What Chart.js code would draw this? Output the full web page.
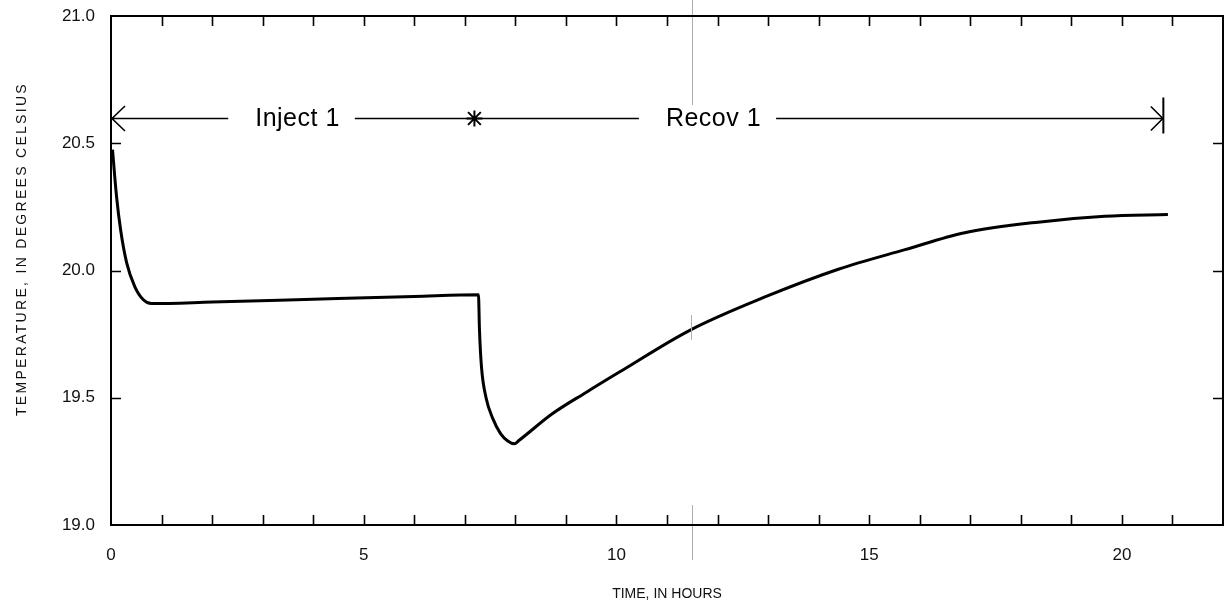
<!DOCTYPE html>
<html>
<head>
<meta charset="utf-8">
<script src="https://cdn.jsdelivr.net/npm/chart.js@4"></script>
<style>
html,body{margin:0;padding:0;background:#fff;}
#wrap{width:1231px;height:604px;position:relative;}
</style>
</head>
<body>
<div id="wrap"><canvas id="c" width="1231" height="604"></canvas></div>
<script>
// ---- data ----
const timeHours = [0.03, 0.11, 0.19, 0.31, 0.47, 0.64, 0.80, 2.0, 4.0, 6.0, 7.27, 7.29, 7.33, 7.42, 7.55, 7.71, 7.85, 7.98, 8.07, 8.73, 9.39, 10.05, 11.46, 12.95, 14.39, 15.71, 16.89, 18.34, 19.66, 20.91];
const temperatureC = [20.475, 20.29, 20.16, 20.03, 19.937, 19.885, 19.87, 19.876, 19.887, 19.898, 19.905, 19.766, 19.62, 19.50, 19.42, 19.358, 19.33, 19.319, 19.332, 19.437, 19.52, 19.60, 19.766, 19.897, 20.005, 20.082, 20.148, 20.19, 20.213, 20.22];
const phaseBounds = [0, 7.19, 20.81];          // hours: start, switch, end
const phaseLabels = ['Inject 1', 'Recov 1'];
const phaseLabelAt = [3.69, 11.92];            // hours, label centres
const phaseLevel = 20.6;                        // degrees C of the annotation line
const xTickLabels = [0, 5, 10, 15, 20];
const yTickLabels = [19.0, 19.5, 20.0, 20.5, 21.0];
const xTitle = 'TIME, IN HOURS';
const yTitle = 'TEMPERATURE, IN DEGREES CELSIUS';

const FONT = "'Liberation Sans', Arial, Helvetica, sans-serif";

const points = timeHours.map((t, i) => ({x: t, y: temperatureC[i]}));

const framePlugin = {
  id: 'frame',
  afterDraw(chart) {
    const ctx = chart.ctx;
    const a = chart.chartArea;
    const xs = chart.scales.x, ys = chart.scales.y;
    ctx.save();
    // scan artifact (faint fold line)
    ctx.strokeStyle = '#b0b0b0';
    ctx.lineWidth = 1;
    ctx.beginPath();
    ctx.moveTo(692.5, 0); ctx.lineTo(692.5, 105);
    ctx.moveTo(691.5, 315); ctx.lineTo(691.5, 340);
    ctx.moveTo(692.5, 505); ctx.lineTo(692.5, 560);
    ctx.stroke();

    // frame
    ctx.strokeStyle = '#000';
    ctx.lineWidth = 2;
    ctx.strokeRect(a.left, a.top, a.right - a.left, a.bottom - a.top);
    // inward ticks
    const L = 10;
    ctx.lineWidth = 1.6;
    ctx.beginPath();
    xs.ticks.forEach(t => {
      const px = Math.round(xs.getPixelForValue(t.value)) + 0.5;
      if (px <= a.left + 1 || px >= a.right - 1) return;
      ctx.moveTo(px, a.top); ctx.lineTo(px, a.top + L);
      ctx.moveTo(px, a.bottom); ctx.lineTo(px, a.bottom - L);
    });
    ys.ticks.forEach(t => {
      const py = Math.round(ys.getPixelForValue(t.value)) + 0.5;
      if (py <= a.top + 1 || py >= a.bottom - 1) return;
      ctx.moveTo(a.left, py); ctx.lineTo(a.left + L, py);
      ctx.moveTo(a.right, py); ctx.lineTo(a.right - L, py);
    });
    ctx.stroke();

    // y axis title with wide letter spacing
    ctx.fillStyle = '#111';
    ctx.font = '14px ' + FONT;
    try { ctx.letterSpacing = '2.3px'; } catch (e) {}
    ctx.translate(22, 249);
    ctx.rotate(-Math.PI / 2);
    ctx.textAlign = 'center';
    ctx.textBaseline = 'middle';
    ctx.fillText(yTitle, 0, 0);
    ctx.restore();
  }
};

const phasePlugin = {
  id: 'phases',
  afterDatasetsDraw(chart) {
    const ctx = chart.ctx;
    const xs = chart.scales.x, ys = chart.scales.y;
    const y = Math.round(ys.getPixelForValue(phaseLevel)) + 0.5;
    const x0 = xs.getPixelForValue(phaseBounds[0]);
    const x1 = xs.getPixelForValue(phaseBounds[1]);
    const x2 = xs.getPixelForValue(phaseBounds[2]);
    ctx.save();
    ctx.strokeStyle = '#000';
    ctx.lineWidth = 1.6;
    ctx.font = '25px ' + FONT;
    try { ctx.letterSpacing = '0.5px'; } catch (e) {}
    ctx.textAlign = 'center';
    ctx.textBaseline = 'middle';
    // main line with gaps for labels
    const gaps = phaseLabels.map((s, i) => {
      const cx = xs.getPixelForValue(phaseLabelAt[i]);
      const w = ctx.measureText(s).width;
      return [cx - w / 2 - 27, cx + w / 2 + 15];
    });
    ctx.beginPath();
    let cur = x0;
    gaps.forEach(g => { ctx.moveTo(cur, y); ctx.lineTo(g[0], y); cur = g[1]; });
    ctx.moveTo(cur, y); ctx.lineTo(x2, y);
    // left arrowhead
    ctx.moveTo(x0 + 14, y - 12.5); ctx.lineTo(x0 + 1, y); ctx.lineTo(x0 + 14, y + 12.5);
    // right arrowhead and end bar
    ctx.moveTo(x2 - 12, y - 12); ctx.lineTo(x2, y); ctx.lineTo(x2 - 12, y + 12);
    ctx.stroke();
    ctx.lineWidth = 2;
    ctx.beginPath();
    ctx.moveTo(x2 + 0.5, y - 21); ctx.lineTo(x2 + 0.5, y + 15);
    // asterisk at switch
    const r = 8;
    ctx.moveTo(x1, y - r); ctx.lineTo(x1, y + r);
    ctx.moveTo(x1 - r * 0.8, y - r * 0.8); ctx.lineTo(x1 + r * 0.8, y + r * 0.8);
    ctx.moveTo(x1 - r * 0.8, y + r * 0.8); ctx.lineTo(x1 + r * 0.8, y - r * 0.8);
    ctx.moveTo(x1 - r, y); ctx.lineTo(x1 + r, y);
    ctx.stroke();
    // labels
    ctx.fillStyle = '#000';
    phaseLabels.forEach((s, i) => {
      ctx.fillText(s, xs.getPixelForValue(phaseLabelAt[i]), y + 1);
    });
    ctx.restore();
  }
};

new Chart(document.getElementById('c'), {
  type: 'line',
  data: {
    datasets: [{
      data: points,
      borderColor: '#000',
      borderWidth: 3,
      pointRadius: 0,
      fill: false,
      tension: 0.4,
      cubicInterpolationMode: 'monotone'
    }]
  },
  options: {
    responsive: false,
    animation: false,
    events: [],
    layout: {padding: {left: 0, right: 8, top: 16, bottom: 0}},
    plugins: {legend: {display: false}, tooltip: {enabled: false}},
    scales: {
      x: {
        type: 'linear', min: 0, max: 22,
        grid: {display: false, drawTicks: false},
        border: {display: false},
        ticks: {
          stepSize: 1, autoSkip: false, maxRotation: 0, padding: 20,
          color: '#111', font: {family: FONT, size: 17},
          callback: v => xTickLabels.includes(v) ? String(v) : ''
        },
        title: {display: true, text: xTitle, color: '#111', font: {family: FONT, size: 14}, padding: {top: 0, bottom: 1}},
        afterFit: s => { s.height = 79; s.paddingLeft = 0; s.paddingRight = 0; }
      },
      y: {
        type: 'linear', min: 19, max: 21,
        grid: {display: false, drawTicks: false},
        border: {display: false},
        ticks: {
          stepSize: 0.5, padding: 16,
          color: '#111', font: {family: FONT, size: 17},
          callback: v => yTickLabels.includes(v) ? v.toFixed(1) : ''
        },
        title: {display: false, text: yTitle},
        afterFit: s => { s.width = 111; s.paddingTop = 0; s.paddingBottom = 0; }
      }
    }
  },
  plugins: [framePlugin, phasePlugin]
});
</script>
</body>
</html>
